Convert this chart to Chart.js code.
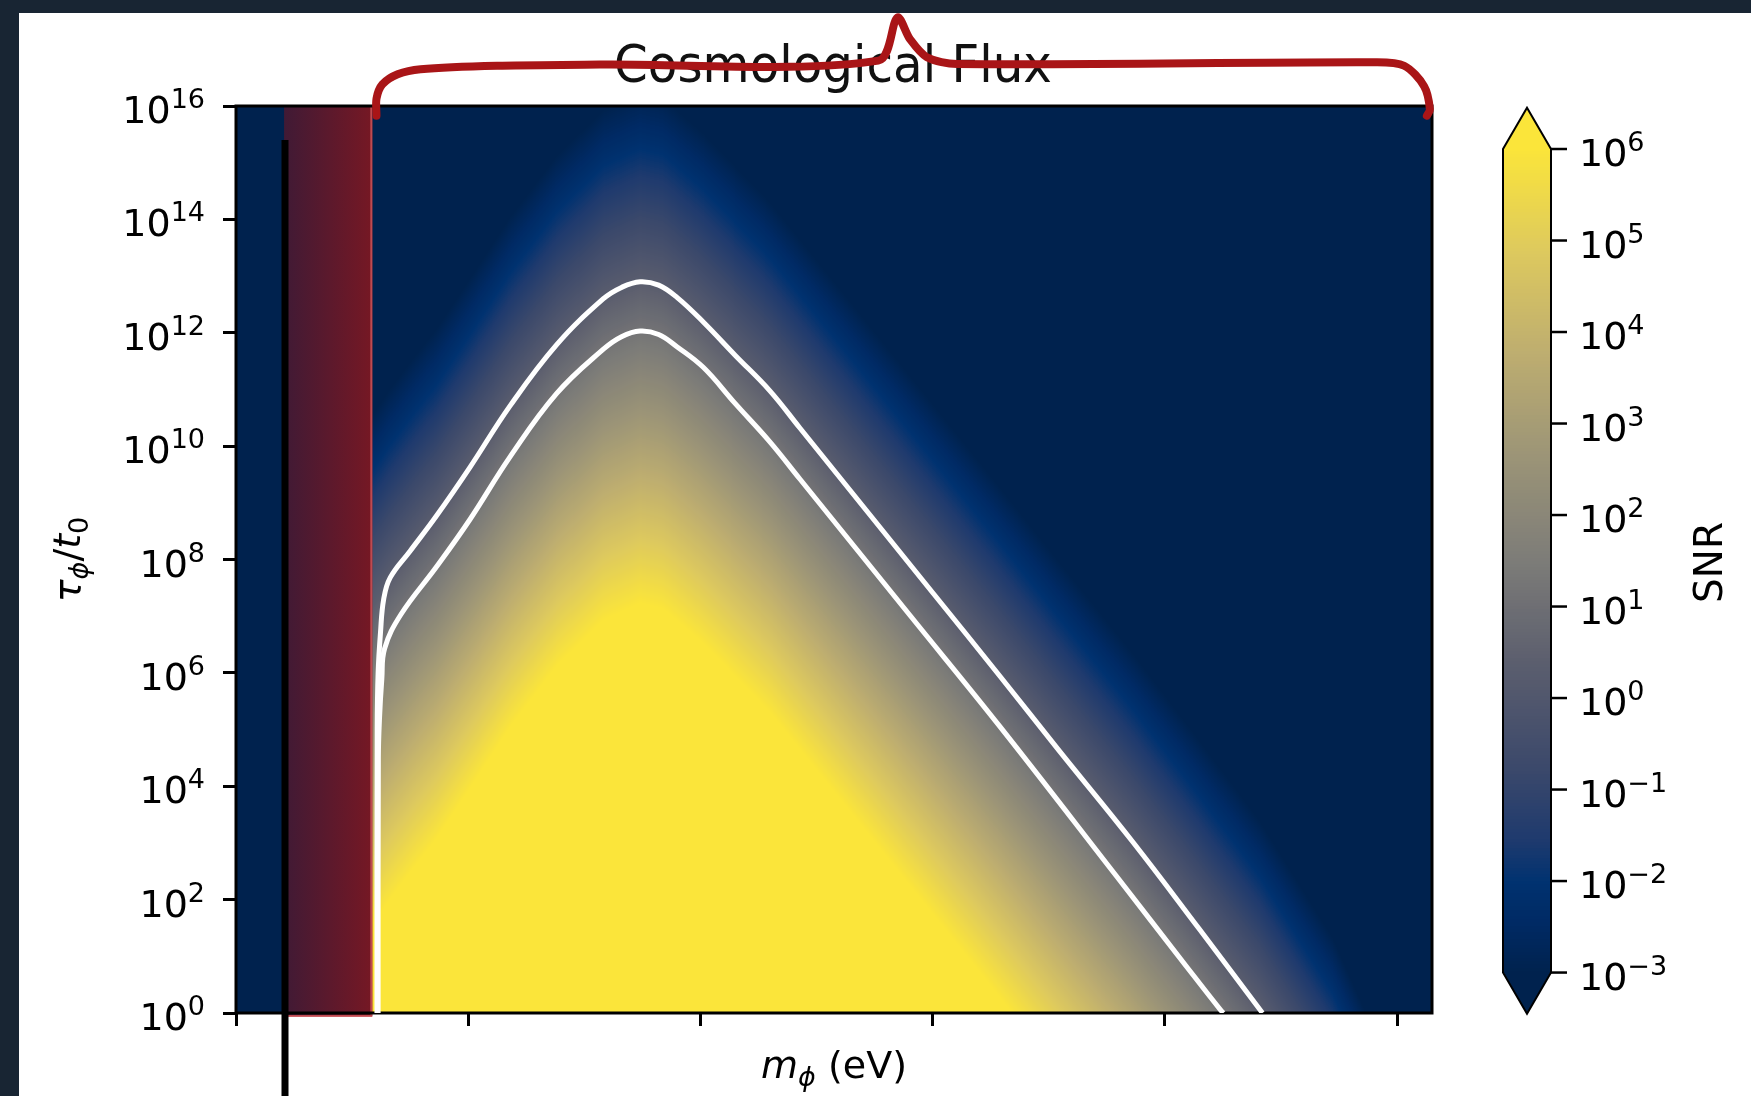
<!DOCTYPE html>
<html>
<head>
<meta charset="utf-8">
<script src="https://cdn.jsdelivr.net/npm/chart.js@4.4.0/dist/chart.umd.min.js"></script>
<style>
  html, body { margin: 0; padding: 0; background: #182533; }
  canvas { display: block; }
</style>
</head>
<body>
<canvas id="snr" width="1751" height="1096"></canvas>
<script>
// x is log10(m_phi) counted in decades from the first tick, y is log10(tau_phi / t0)
var xTicks = [0, 1, 2, 3, 4, 5];
var yTicks = [0, 2, 4, 6, 8, 10, 12, 14, 16];
var cbarTicks = [-3, -2, -1, 0, 1, 2, 3, 4, 5, 6];

// log10 SNR at tau = t0 along the mass axis (SNR drops like 1/tau going up)
var logMassKnots = [0.587, 0.664, 0.750, 0.865, 1.008, 1.180, 1.381, 1.582, 1.740, 1.840, 2.012,
                    2.298, 2.428, 3.001, 3.288, 3.546, 3.861, 4.148, 4.407, 4.721, 4.866, 5.150];
var logSnrAtT0 = [7.55, 8.01, 8.48, 9.08, 9.96, 11.04, 12.12, 12.93, 13.23, 13.13, 12.52,
                  11.31, 10.65, 7.74, 6.28, 4.95, 3.35, 1.81, 0.40, -1.66, -3.00, -5.00];

// white contour lines
var outerMass = [0.607, 0.608, 0.612, 0.622, 0.636, 0.664, 0.750, 0.865, 1.008, 1.180, 1.381, 1.582,
                 1.660, 1.740, 1.820, 1.900, 2.012, 2.150, 2.298, 2.428, 3.001, 3.288, 3.546, 3.861,
                 4.148, 4.407, 4.420];
var outerTau = [0.00, 5.00, 6.00, 6.70, 7.30, 7.68, 8.15, 8.78, 9.63, 10.71, 11.79, 12.60,
                12.80, 12.90, 12.84, 12.62, 12.19, 11.60, 10.98, 10.32, 7.41, 5.95, 4.62, 3.02,
                1.48, 0.07, 0.00];
var innerMass = [0.612, 0.613, 0.618, 0.628, 0.640, 0.710, 0.865, 1.008, 1.180, 1.381, 1.582,
                 1.660, 1.740, 1.820, 1.900, 2.012, 2.150, 2.298, 2.428, 2.901, 3.288, 3.790,
                 4.091, 4.240, 4.252];
var innerTau = [0.00, 4.50, 5.20, 5.90, 6.43, 7.03, 7.88, 8.71, 9.81, 10.93, 11.71,
                11.93, 12.03, 11.97, 11.75, 11.39, 10.75, 10.08, 9.42, 7.02, 5.06, 2.42,
                0.83, 0.05, 0.00];

// excluded band and black marker line
var bandMass = [0.207, 0.587];
var markerMass = [0.211, 0.211];
var markerTau = [15.40, -1.50];

// brace over the cosmological flux range
var braceMass = [0.605, 0.605, 0.630, 0.696, 0.795, 1.124, 1.566, 2.766, 2.848, 2.902, 2.975, 3.105,
                 4.906, 5.030, 5.116, 5.141, 5.128];
var braceTau = [15.83, 16.13, 16.38, 16.56, 16.65, 16.71, 16.73, 16.80, 17.56, 17.18, 16.86, 16.74,
                16.77, 16.71, 16.35, 15.94, 15.83];

var cividisStops = [
  [0.000, 0, 34, 78], [0.060, 0, 42, 100], [0.110, 0, 50, 112], [0.160, 30, 58, 110],
  [0.250, 60, 73, 107], [0.375, 91, 94, 110], [0.500, 125, 124, 120], [0.625, 155, 148, 119],
  [0.750, 189, 173, 112], [0.875, 221, 201, 94], [1.000, 251, 229, 58]
];
var lut = [];
for (var i = 0; i < 256; i++) {
  var f = i / 255, k = 1;
  while (k < cividisStops.length - 1 && cividisStops[k][0] < f) k++;
  var a = cividisStops[k - 1], b = cividisStops[k];
  var w = (f - a[0]) / (b[0] - a[0]);
  lut.push([a[1] + (b[1] - a[1]) * w, a[2] + (b[2] - a[2]) * w, a[3] + (b[3] - a[3]) * w]);
}
function colorFor(logSnr) {
  var f = (logSnr + 3) / 9;
  if (f < 0) f = 0;
  if (f > 1) f = 1;
  return lut[Math.round(f * 255)];
}
function profileAt(u) {
  if (u < logMassKnots[0]) return null;
  for (var k = 1; k < logMassKnots.length; k++) {
    if (u <= logMassKnots[k]) {
      var w = (u - logMassKnots[k - 1]) / (logMassKnots[k] - logMassKnots[k - 1]);
      return logSnrAtT0[k - 1] + (logSnrAtT0[k] - logSnrAtT0[k - 1]) * w;
    }
  }
  return logSnrAtT0[logSnrAtT0.length - 1];
}
function pts(xs, ys) {
  return xs.map(function (x, i) { return {x: x, y: ys[i]}; });
}

var FONT = '"DejaVu Sans", sans-serif';

function drawPow(ctx, exp, x, y, alignRight) {
  ctx.font = '38px ' + FONT;
  var bw = ctx.measureText('10').width;
  ctx.font = '27px ' + FONT;
  var ew = ctx.measureText(exp).width;
  var x0 = alignRight ? x - bw - ew : x;
  ctx.textAlign = 'left';
  ctx.textBaseline = 'alphabetic';
  ctx.font = '38px ' + FONT;
  ctx.fillText('10', x0, y + 17);
  ctx.font = '27px ' + FONT;
  ctx.fillText(exp, x0 + bw, y + 2);
}
function drawPieces(ctx, pieces, cx, cy) {
  var total = 0;
  pieces.forEach(function (p) { ctx.font = p[1]; p.w = ctx.measureText(p[0]).width; total += p.w; });
  var x = cx - total / 2;
  ctx.textAlign = 'left';
  ctx.textBaseline = 'alphabetic';
  pieces.forEach(function (p) { ctx.font = p[1]; ctx.fillText(p[0], x, cy + p[2]); x += p.w; });
}

var backdrop = {
  id: 'backdrop',
  beforeDraw: function (chart) {
    var ctx = chart.ctx;
    ctx.save();
    ctx.fillStyle = '#182533';
    ctx.fillRect(0, 0, chart.width, chart.height);
    ctx.fillStyle = '#ffffff';
    ctx.fillRect(19, 13, chart.width - 19, chart.height - 13);
    // title sits under the brace
    ctx.translate(833, 82);
    ctx.scale(0.93, 1);
    ctx.fillStyle = '#111';
    ctx.font = '52px ' + FONT;
    ctx.textAlign = 'center';
    ctx.fillText('Cosmological Flux', 0, 0);
    ctx.restore();
  }
};

var heatmap = {
  id: 'heatmap',
  beforeDatasetsDraw: function (chart) {
    var ctx = chart.ctx, area = chart.chartArea;
    var xs = chart.scales.x, ys = chart.scales.y;
    var left = Math.round(area.left), top = Math.round(area.top);
    var w = Math.round(area.right) - left, h = Math.round(area.bottom) - top;
    var off = document.createElement('canvas');
    off.width = w; off.height = h;
    var octx = off.getContext('2d');
    var img = octx.createImageData(w, h);
    var cols = [];
    for (var px = 0; px < w; px++) cols.push(profileAt(xs.getValueForPixel(left + px + 0.5)));
    for (var py = 0; py < h; py++) {
      var t = ys.getValueForPixel(top + py + 0.5);
      for (var px2 = 0; px2 < w; px2++) {
        var g = cols[px2];
        var c = colorFor(g === null ? -10 : g - t);
        var o = (py * w + px2) * 4;
        img.data[o] = c[0]; img.data[o + 1] = c[1]; img.data[o + 2] = c[2]; img.data[o + 3] = 255;
      }
    }
    octx.putImageData(img, 0, 0);
    ctx.save();
    ctx.drawImage(off, left, top);

    // excluded band
    var b0 = xs.getPixelForValue(bandMass[0]), b1 = xs.getPixelForValue(bandMass[1]);
    var grad = ctx.createLinearGradient(b0, 0, b1, 0);
    grad.addColorStop(0, 'rgb(64,26,53)');
    grad.addColorStop(1, 'rgb(118,24,36)');
    ctx.fillStyle = grad;
    ctx.fillRect(b0, area.top, b1 - b0, area.bottom - area.top + 3);
    ctx.strokeStyle = 'rgba(200,80,85,0.9)';
    ctx.lineWidth = 2;
    ctx.beginPath();
    ctx.moveTo(b1 - 1, area.top);
    ctx.lineTo(b1 - 1, area.bottom + 3);
    ctx.lineTo(b0, area.bottom + 3);
    ctx.stroke();

    // frame
    ctx.strokeStyle = '#000';
    ctx.lineWidth = 3;
    ctx.strokeRect(area.left, area.top, area.right - area.left, area.bottom - area.top);
    ctx.restore();
  }
};

var labels = {
  id: 'labels',
  afterDraw: function (chart) {
    var ctx = chart.ctx, area = chart.chartArea;
    var ys = chart.scales.y, cb = chart.scales.cb;
    ctx.save();
    ctx.fillStyle = '#000';
    yTicks.forEach(function (v) { drawPow(ctx, String(v), 205, ys.getPixelForValue(v), true); });

    // axis titles
    drawPieces(ctx, [['m', 'italic 38px ' + FONT, 0], ['\u03d5', 'italic 27px ' + FONT, 8],
                     [' (eV)', '38px ' + FONT, 0]], (area.left + area.right) / 2, 1078);
    ctx.save();
    ctx.translate(80, (area.top + area.bottom) / 2);
    ctx.rotate(-Math.PI / 2);
    drawPieces(ctx, [['\u03c4', 'italic 38px ' + FONT, 0], ['\u03d5', 'italic 27px ' + FONT, 8],
                     ['/', '38px ' + FONT, 0], ['t', 'italic 38px ' + FONT, 0], ['0', '27px ' + FONT, 8]], 0, 0);
    ctx.restore();

    // colorbar
    var x0 = 1503, x1 = 1551, xc = (x0 + x1) / 2;
    var yMax = cb.getPixelForValue(6), yMin = cb.getPixelForValue(-3);
    var yTip = cb.getPixelForValue(6.45), yBot = cb.getPixelForValue(-3.45);
    for (var py = Math.floor(yMax); py < Math.ceil(yMin); py++) {
      var c = colorFor(cb.getValueForPixel(py + 0.5));
      ctx.fillStyle = 'rgb(' + c[0] + ',' + c[1] + ',' + c[2] + ')';
      ctx.fillRect(x0, py, x1 - x0, 1);
    }
    var top = colorFor(7), bot = colorFor(-4);
    ctx.fillStyle = 'rgb(' + top.join(',') + ')';
    ctx.beginPath(); ctx.moveTo(x0, yMax + 1); ctx.lineTo(xc, yTip); ctx.lineTo(x1, yMax + 1); ctx.closePath(); ctx.fill();
    ctx.fillStyle = 'rgb(' + bot.join(',') + ')';
    ctx.beginPath(); ctx.moveTo(x0, yMin - 1); ctx.lineTo(xc, yBot); ctx.lineTo(x1, yMin - 1); ctx.closePath(); ctx.fill();
    ctx.strokeStyle = '#000';
    ctx.lineWidth = 2;
    ctx.beginPath();
    ctx.moveTo(x0, yMax); ctx.lineTo(xc, yTip); ctx.lineTo(x1, yMax);
    ctx.lineTo(x1, yMin); ctx.lineTo(xc, yBot); ctx.lineTo(x0, yMin); ctx.closePath();
    ctx.stroke();
    ctx.lineWidth = 2.5;
    ctx.fillStyle = '#000';
    cbarTicks.forEach(function (v) {
      var py = cb.getPixelForValue(v);
      ctx.beginPath(); ctx.moveTo(x1, py); ctx.lineTo(x1 + 16, py); ctx.stroke();
      drawPow(ctx, v < 0 ? '\u2212' + Math.abs(v) : String(v), 1579, py, false);
    });
    ctx.save();
    ctx.translate(1722, (area.top + area.bottom) / 2 + 3);
    ctx.rotate(-Math.PI / 2);
    ctx.font = '39px ' + FONT;
    ctx.textAlign = 'center';
    ctx.fillText('SNR', 0, 0);
    ctx.restore();
    ctx.restore();
  }
};

var tickGrid = {drawOnChartArea: false, drawTicks: true, tickLength: 13, tickWidth: 3, tickColor: '#000'};

Chart.defaults.font.family = FONT;
new Chart(document.getElementById('snr').getContext('2d'), {
  type: 'scatter',
  data: {
    datasets: [
      {data: pts(outerMass, outerTau), showLine: true, borderColor: '#ffffff', borderWidth: 5,
       pointRadius: 0, tension: 0.4, borderJoinStyle: 'round'},
      {data: pts(innerMass, innerTau), showLine: true, borderColor: '#ffffff', borderWidth: 5,
       pointRadius: 0, tension: 0.4, borderJoinStyle: 'round'},
      {data: pts(markerMass, markerTau), showLine: true, borderColor: '#000000', borderWidth: 7,
       pointRadius: 0, clip: false},
      {data: pts(braceMass, braceTau), showLine: true, borderColor: '#a91517', borderWidth: 8,
       pointRadius: 0, tension: 0.3, clip: false, capBezierPoints: false,
       borderCapStyle: 'round', borderJoinStyle: 'round'}
    ]
  },
  options: {
    responsive: false,
    animation: false,
    events: [],
    layout: {padding: {left: 223, right: 319, top: 106, bottom: 70}},
    plugins: {legend: {display: false}, tooltip: {enabled: false}, title: {display: false}},
    scales: {
      x: {type: 'linear', min: 0, max: 5.15, ticks: {display: false}, grid: tickGrid,
          border: {display: false},
          afterBuildTicks: function (axis) { axis.ticks = xTicks.map(function (v) { return {value: v}; }); }},
      y: {type: 'linear', min: 0, max: 16, ticks: {display: false}, grid: tickGrid,
          border: {display: false},
          afterBuildTicks: function (axis) { axis.ticks = yTicks.map(function (v) { return {value: v}; }); }},
      cb: {axis: 'y', type: 'linear', display: false, position: 'right', min: -3.442, max: 6.47}
    }
  },
  plugins: [backdrop, heatmap, labels]
});
</script>
</body>
</html>
